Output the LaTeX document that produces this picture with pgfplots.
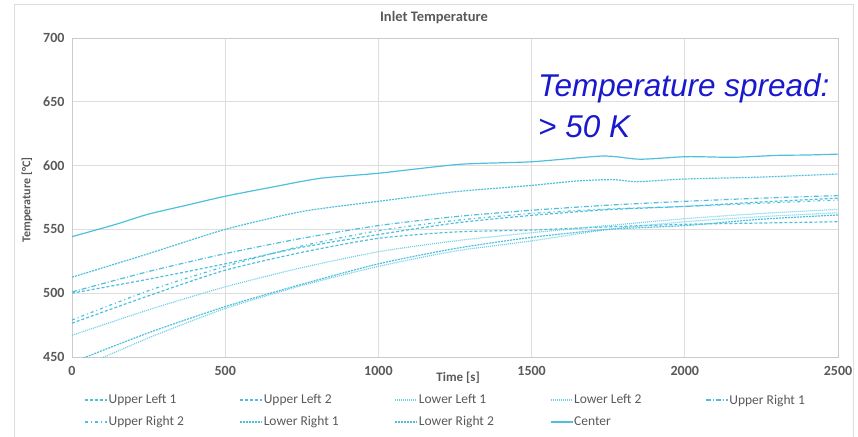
\documentclass[border=0pt]{standalone}
\usepackage{pgfplots}
\pgfplotsset{compat=1.18}
\usepackage{fontspec}
\setmainfont{Carlito}
\newfontfamily\arialfont{Liberation Sans}

\definecolor{cyanline}{RGB}{78,192,222}
\definecolor{cyanlight}{RGB}{110,206,232}
\definecolor{txtgray}{RGB}{89,89,89}
\definecolor{gridgray}{RGB}{222,222,222}
\definecolor{spreadblue}{RGB}{25,25,205}

\begin{document}
\begin{tikzpicture}[x=1pt,y=1pt]
\useasboundingbox (0,0) rectangle (858,436);
% chart frame
\draw[gridgray, line width=1pt] (14,-2) -- (14,431) -- (853,431) -- (853,-2);

\begin{axis}[
    at={(72pt,79pt)}, anchor=south west,
    scale only axis, width=766pt, height=319pt,
    xmin=0, xmax=2500, ymin=450, ymax=700,
    xtick={0,500,...,2500}, ytick={450,500,...,700},
    grid=major,
    major grid style={gridgray, line width=0.8pt},
    axis line style={gridgray!80!gray, line width=0.8pt},
    major tick length=0pt,
    extra y ticks={500}, extra y tick labels={},
    extra y tick style={grid style={gridgray!85!gray, line width=2pt}},
    /pgf/number format/assume math mode=true,
    /pgf/number format/set thousands separator={},
    ticklabel style={font=\fontsize{14}{16}\selectfont\bfseries, text=txtgray},
    yticklabel style={xshift=-4pt},
    xticklabel style={yshift=-6pt},
    xlabel={Time [s]},
    xlabel style={at={(axis cs:1260,450)}, anchor=north, yshift=-11pt,
        font=\fontsize{13}{15}\selectfont\bfseries, text=txtgray},
    legend columns=5,
    legend cell align=left,
    legend image code/.code={\draw[#1] (0pt,0pt) -- (22pt,0pt);},
    legend style={draw=none, fill=none, at={(rel axis cs:0.012,-0.108)}, anchor=north west,
        font=\fontsize{13.5}{16}\selectfont, text=txtgray,
        /tikz/every even column/.append style={column sep=0pt},
        nodes={inner sep=1pt}, row sep=9pt},
    every axis plot/.append style={line width=1.2pt, smooth, tension=0.4},
]
% Upper Left 1
\addplot[cyanline, dash pattern=on 3pt off 2pt] coordinates {
 (0,500) (250,511) (500,523) (750,536) (1000,546) (1250,555) (1500,561)
 (1750,565.5) (2000,568) (2250,571.5) (2500,574.5)};
\addlegendentry{\makebox[130pt][l]{Upper Left 1}}
% Upper Left 2
\addplot[cyanline, dash pattern=on 3pt off 2pt] coordinates {
 (0,476.5) (250,498) (500,518) (750,532) (1000,543) (1250,548) (1500,549.5)
 (1750,552) (2000,554) (2250,555) (2500,556)};
\addlegendentry{\makebox[130pt][l]{Upper Left 2}}
% Lower Left 1
\addplot[cyanlight, dash pattern=on 1pt off 1pt] coordinates {
 (0,467) (250,487) (500,505) (750,520) (1000,532.5) (1250,541) (1500,547.4)
 (1750,553) (2000,558.4) (2250,562.5) (2500,565.7)};
\addlegendentry{\makebox[130pt][l]{Lower Left 1}}
% Lower Left 2
\addplot[cyanlight, dash pattern=on 1pt off 1pt] coordinates {
 (0,439) (250,465) (500,488) (750,506) (1000,521) (1250,533) (1500,541)
 (1750,550) (2000,556) (2250,560) (2500,563)};
\addlegendentry{\makebox[130pt][l]{Lower Left 2}}
% Upper Right 1
\addplot[cyanline, dash pattern=on 5pt off 2pt on 1pt off 2pt] coordinates {
 (0,501) (250,517) (500,531) (750,543) (1000,553) (1250,560) (1500,565)
 (1750,569) (2000,572) (2250,574.5) (2500,576.5)};
\addlegendentry{\makebox[130pt][l]{Upper Right 1}}
% Upper Right 2
\addplot[cyanline, dash pattern=on 3pt off 3pt on 1pt off 3pt] coordinates {
 (0,479) (250,502) (500,521) (750,537) (1000,549) (1250,557) (1500,562.5)
 (1750,566) (2000,568) (2250,570.5) (2500,573)};
\addlegendentry{\makebox[130pt][l]{Upper Right 2}}
% Lower Right 1
\addplot[cyanline, dash pattern=on 2pt off 1pt] coordinates {
 (0,445.7) (250,469) (500,489.5) (750,507) (1000,523) (1250,535) (1500,543.8)
 (1750,550) (2000,553) (2250,558) (2500,561.3)};
\addlegendentry{\makebox[130pt][l]{Lower Right 1}}
% Lower Right 2
\addplot[cyanline, dash pattern=on 2pt off 1pt] coordinates {
 (0,512.5) (250,531) (500,550) (750,564) (1000,572) (1250,579.5) (1500,584.5)
 (1650,588) (1766,589) (1844,587.4) (2000,589.5) (2250,591) (2500,593.4)};
\addlegendentry{\makebox[130pt][l]{Lower Right 2}}
% Center
\addplot[cyanline] coordinates {
 (0,544.3) (100,551) (157,555) (250,562) (375,569) (500,576) (650,583)
 (809,590) (1000,594) (1266,601) (1500,603) (1733,607.5) (1854,605)
 (2006,607) (2157,606.5) (2300,608) (2400,608.3) (2500,609)};
\addlegendentry{\makebox[130pt][l]{Center}}
\end{axis}

\node[font=\fontsize{14.5}{17}\selectfont\bfseries, text=txtgray] at (434,418) {Inlet Temperature};
\node[rotate=90, font=\fontsize{12}{14}\selectfont\bfseries, text=txtgray] at (27,236) {Temperature [°C]};
\node[anchor=base west, inner sep=0pt, font=\arialfont\itshape\fontsize{31.5}{36}\selectfont, text=spreadblue] at (538,339) {Temperature spread:};
\node[anchor=base west, inner sep=0pt, font=\arialfont\itshape\fontsize{31.5}{36}\selectfont, text=spreadblue] at (538,298) {> 50 K};
\end{tikzpicture}
\end{document}
